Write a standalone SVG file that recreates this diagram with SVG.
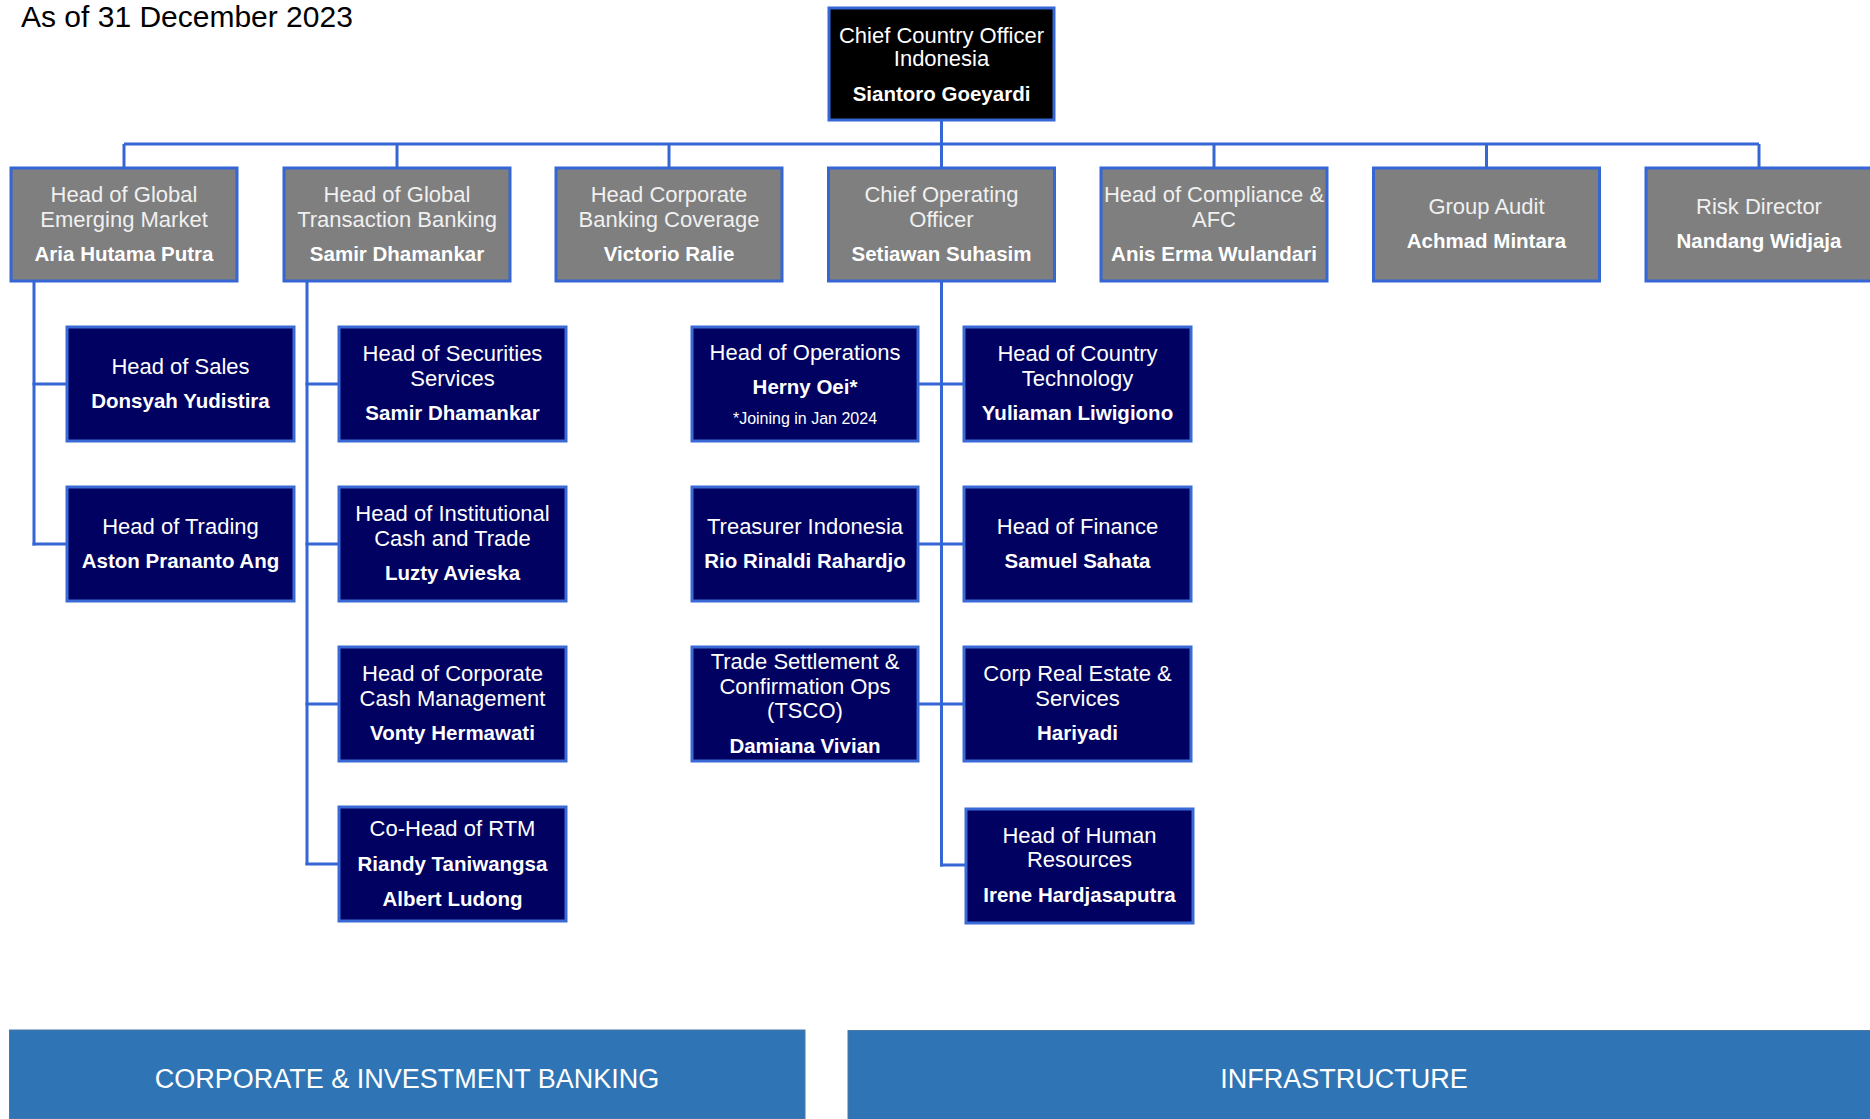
<svg xmlns="http://www.w3.org/2000/svg" width="1870" height="1119" viewBox="0 0 1870 1119">
<style>
.bg{fill:#ffffff}
.conn line{stroke:#3566d3;stroke-width:3;fill:none}
.top rect{fill:#000000;stroke:#3566d3;stroke-width:3}
.l2 rect{fill:#7f7f7f;stroke:#3566d3;stroke-width:3}
.l3 rect{fill:#010162;stroke:#3a6ad6;stroke-width:3}
text{font-family:"Liberation Sans",Arial,sans-serif;text-anchor:middle}
.t{font-size:22px;fill:#ffffff}
.l2 .t{fill:#f0f0f0}
.n{font-size:20.5px;font-weight:bold;fill:#ffffff}
.note{font-size:16px;fill:#ffffff}
.band{fill:#2f75b5}
.bt{font-size:27px;fill:#ffffff}
</style>
<rect class="bg" x="0" y="0" width="1870" height="1119"/>
<text x="21" y="27" style="font-size:30px;fill:#000;text-anchor:start">As of 31 December 2023</text>

<g id="connectors" class="conn">
<line x1="941.5" y1="120" x2="941.5" y2="144"/>
<line x1="124" y1="144" x2="1759" y2="144"/>
<line x1="124" y1="144" x2="124" y2="168"/>
<line x1="397" y1="144" x2="397" y2="168"/>
<line x1="669" y1="144" x2="669" y2="168"/>
<line x1="941.5" y1="144" x2="941.5" y2="168"/>
<line x1="1214" y1="144" x2="1214" y2="168"/>
<line x1="1486.5" y1="144" x2="1486.5" y2="168"/>
<line x1="1759" y1="144" x2="1759" y2="168"/>
<line x1="34" y1="281" x2="34" y2="545.5"/>
<line x1="32.5" y1="384" x2="67" y2="384"/>
<line x1="32.5" y1="544" x2="67" y2="544"/>
<line x1="307" y1="281" x2="307" y2="865"/>
<line x1="305.5" y1="384" x2="339" y2="384"/>
<line x1="305.5" y1="544" x2="339" y2="544"/>
<line x1="305.5" y1="704" x2="339" y2="704"/>
<line x1="305.5" y1="864" x2="339" y2="864"/>
<line x1="941.5" y1="281" x2="941.5" y2="866.5"/>
<line x1="918" y1="384" x2="964" y2="384"/>
<line x1="918" y1="544" x2="964" y2="544"/>
<line x1="918" y1="704" x2="964" y2="704"/>
<line x1="940" y1="865" x2="966" y2="865"/>
</g>

<g id="cco" class="top">
<rect x="829" y="8" width="225" height="112"/>
<text class="t" x="941.5" y="43">Chief Country Officer</text>
<text class="t" x="941.5" y="66">Indonesia</text>
<text class="n" x="941.5" y="101">Siantoro Goeyardi</text>
</g>

<g id="gem" class="l2">
<rect x="11" y="168" width="226" height="113"/>
<text class="t" x="124" y="202">Head of Global</text>
<text class="t" x="124" y="227">Emerging Market</text>
<text class="n" x="124" y="261">Aria Hutama Putra</text>
</g>
<g id="gtb" class="l2">
<rect x="284" y="168" width="226" height="113"/>
<text class="t" x="397" y="202">Head of Global</text>
<text class="t" x="397" y="227">Transaction Banking</text>
<text class="n" x="397" y="261">Samir Dhamankar</text>
</g>
<g id="cbc" class="l2">
<rect x="556" y="168" width="226" height="113"/>
<text class="t" x="669" y="202">Head Corporate</text>
<text class="t" x="669" y="227">Banking Coverage</text>
<text class="n" x="669" y="261">Victorio Ralie</text>
</g>
<g id="coo" class="l2">
<rect x="828.5" y="168" width="226" height="113"/>
<text class="t" x="941.5" y="202">Chief Operating</text>
<text class="t" x="941.5" y="227">Officer</text>
<text class="n" x="941.5" y="261">Setiawan Suhasim</text>
</g>
<g id="compliance" class="l2">
<rect x="1101" y="168" width="226" height="113"/>
<text class="t" x="1214" y="202">Head of Compliance &amp;</text>
<text class="t" x="1214" y="227">AFC</text>
<text class="n" x="1214" y="261">Anis Erma Wulandari</text>
</g>
<g id="audit" class="l2">
<rect x="1373.5" y="168" width="226" height="113"/>
<text class="t" x="1486.5" y="214">Group Audit</text>
<text class="n" x="1486.5" y="248">Achmad Mintara</text>
</g>
<g id="risk" class="l2">
<rect x="1646" y="168" width="226" height="113"/>
<text class="t" x="1759" y="214">Risk Director</text>
<text class="n" x="1759" y="248">Nandang Widjaja</text>
</g>

<g id="sales" class="l3">
<rect x="67" y="327" width="227" height="114"/>
<text class="t" x="180.5" y="374">Head of Sales</text>
<text class="n" x="180.5" y="408">Donsyah Yudistira</text>
</g>
<g id="trading" class="l3">
<rect x="67" y="487" width="227" height="114"/>
<text class="t" x="180.5" y="534">Head of Trading</text>
<text class="n" x="180.5" y="568">Aston Prananto Ang</text>
</g>

<g id="securities" class="l3">
<rect x="339" y="327" width="227" height="114"/>
<text class="t" x="452.5" y="361">Head of Securities</text>
<text class="t" x="452.5" y="386">Services</text>
<text class="n" x="452.5" y="420">Samir Dhamankar</text>
</g>
<g id="ict" class="l3">
<rect x="339" y="487" width="227" height="114"/>
<text class="t" x="452.5" y="521">Head of Institutional</text>
<text class="t" x="452.5" y="546">Cash and Trade</text>
<text class="n" x="452.5" y="580">Luzty Avieska</text>
</g>
<g id="ccm" class="l3">
<rect x="339" y="647" width="227" height="114"/>
<text class="t" x="452.5" y="681">Head of Corporate</text>
<text class="t" x="452.5" y="706">Cash Management</text>
<text class="n" x="452.5" y="740">Vonty Hermawati</text>
</g>
<g id="rtm" class="l3">
<rect x="339" y="807" width="227" height="114"/>
<text class="t" x="452.5" y="836">Co-Head of RTM</text>
<text class="n" x="452.5" y="871">Riandy Taniwangsa</text>
<text class="n" x="452.5" y="906">Albert Ludong</text>
</g>

<g id="operations" class="l3">
<rect x="692" y="327" width="226" height="114"/>
<text class="t" x="805" y="360">Head of Operations</text>
<text class="n" x="805" y="394">Herny Oei*</text>
<text class="note" x="805" y="424">*Joining in Jan 2024</text>
</g>
<g id="treasurer" class="l3">
<rect x="692" y="487" width="226" height="114"/>
<text class="t" x="805" y="534">Treasurer Indonesia</text>
<text class="n" x="805" y="568">Rio Rinaldi Rahardjo</text>
</g>
<g id="tsco" class="l3">
<rect x="692" y="647" width="226" height="114"/>
<text class="t" x="805" y="669">Trade Settlement &amp;</text>
<text class="t" x="805" y="694">Confirmation Ops</text>
<text class="t" x="805" y="718">(TSCO)</text>
<text class="n" x="805" y="753">Damiana Vivian</text>
</g>

<g id="tech" class="l3">
<rect x="964" y="327" width="227" height="114"/>
<text class="t" x="1077.5" y="361">Head of Country</text>
<text class="t" x="1077.5" y="386">Technology</text>
<text class="n" x="1077.5" y="420">Yuliaman Liwigiono</text>
</g>
<g id="finance" class="l3">
<rect x="964" y="487" width="227" height="114"/>
<text class="t" x="1077.5" y="534">Head of Finance</text>
<text class="n" x="1077.5" y="568">Samuel Sahata</text>
</g>
<g id="cres" class="l3">
<rect x="964" y="647" width="227" height="114"/>
<text class="t" x="1077.5" y="681">Corp Real Estate &amp;</text>
<text class="t" x="1077.5" y="706">Services</text>
<text class="n" x="1077.5" y="740">Hariyadi</text>
</g>
<g id="hr" class="l3">
<rect x="966" y="809" width="227" height="114"/>
<text class="t" x="1079.5" y="843">Head of Human</text>
<text class="t" x="1079.5" y="867">Resources</text>
<text class="n" x="1079.5" y="902">Irene Hardjasaputra</text>
</g>

<g id="cib-band">
<rect class="band" x="9.5" y="1030" width="795.5" height="89" stroke="#4a79a8" stroke-width="1"/>
<text class="bt" x="407" y="1088">CORPORATE &amp; INVESTMENT BANKING</text>
</g>
<g id="infra-band">
<rect class="band" x="848" y="1030.5" width="1030" height="89" stroke="#4a79a8" stroke-width="1"/>
<text class="bt" x="1344" y="1088">INFRASTRUCTURE</text>
</g>
</svg>
